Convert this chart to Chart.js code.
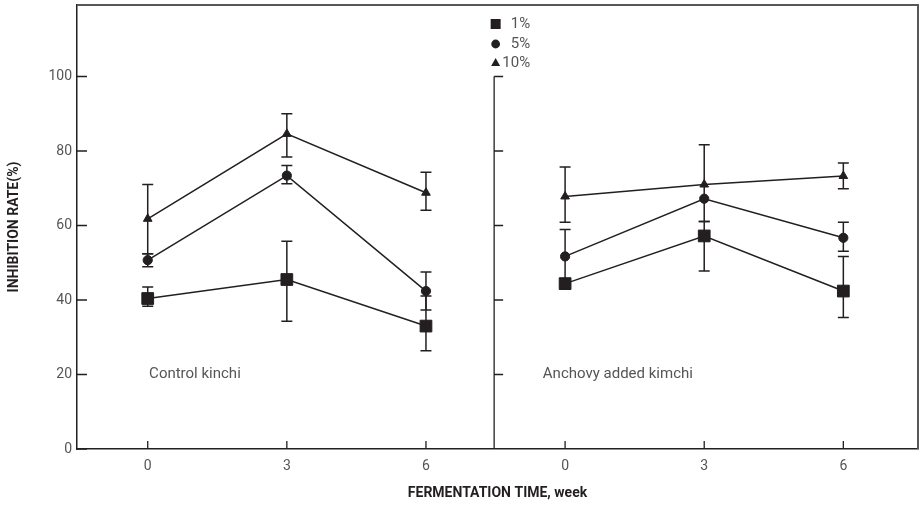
<!DOCTYPE html>
<html>
<head>
<meta charset="utf-8">
<script src="https://cdn.jsdelivr.net/npm/chart.js@4.4.1/dist/chart.umd.min.js"></script>
<style>
html,body{margin:0;padding:0;background:#fff;}
#wrap{width:923px;height:506px;}
</style>
</head>
<body>
<div id="wrap"><canvas id="c" width="923" height="506"></canvas></div>
<script>
// ---- data ----
const weeks = [0, 3, 6];
const xTickValues = [0, 3, 6, 9, 12, 15];
const xTickLabels = ['0', '3', '6', '0', '3', '6'];
const yTickValues = [0, 20, 40, 60, 80, 100];
const seriesLabels = ['1%', '5%', '10%'];

// Control kimchi (left panel)
const ctl1 = [40.4, 45.5, 33.0];
const ctl1Lo = [38.3, 34.3, 26.4];
const ctl1Hi = [43.5, 55.8, 41.1];
const ctl5 = [50.7, 73.4, 42.4];
const ctl5Lo = [48.9, 71.2, 37.3];
const ctl5Hi = [52.4, 76.1, 47.5];
const ctl10 = [61.8, 84.6, 68.8];
const ctl10Lo = [52.4, 78.4, 64.1];
const ctl10Hi = [71.0, 90.0, 74.3];

// Anchovy added kimchi (right panel)
const anc1 = [44.4, 57.2, 42.4];
const anc1Lo = [null, 47.8, 35.3];
const anc1Hi = [null, 61.1, 51.7];
const anc5 = [51.7, 67.2, 56.7];
const anc5Lo = [44.6, null, 53.1];
const anc5Hi = [58.9, null, 60.9];
const anc10 = [67.8, 71.0, 73.3];
const anc10Lo = [60.9, 61.1, 69.9];
const anc10Hi = [75.7, 81.7, 76.8];

const panelTexts = ['Control kinchi', 'Anchovy added kimchi'];

// ---- build ----
const RIGHT_OFFSET = 9;
const GAP_X = 7.47;
function pts(left, right) {
  const out = weeks.map((w, i) => ({x: w, y: left[i]}));
  out.push({x: GAP_X, y: null});
  weeks.forEach((w, i) => out.push({x: w + RIGHT_OFFSET, y: right[i]}));
  return out;
}
function errs(left, right) {
  return left.concat([null], right);
}

const INK = '#231f20';
const GREY = '#555555';
const FONT = 'Roboto, "Liberation Sans", "DejaVu Sans", sans-serif';

const styles = [
  {pointStyle: 'rect', radius: 8.3},
  {pointStyle: 'circle', radius: 4.6},
  {pointStyle: 'triangle', radius: 5}
];
const lefts = [ctl1, ctl5, ctl10], rights = [anc1, anc5, anc10];
const lLo = [ctl1Lo, ctl5Lo, ctl10Lo], lHi = [ctl1Hi, ctl5Hi, ctl10Hi];
const rLo = [anc1Lo, anc5Lo, anc10Lo], rHi = [anc1Hi, anc5Hi, anc10Hi];

const datasets = seriesLabels.map((lab, k) => ({
  label: lab,
  data: pts(lefts[k], rights[k]),
  errLo: errs(lLo[k], rLo[k]),
  errHi: errs(lHi[k], rHi[k]),
  borderColor: INK,
  backgroundColor: INK,
  borderWidth: 1.5,
  pointStyle: styles[k].pointStyle,
  pointRadius: styles[k].radius,
  pointHoverRadius: styles[k].radius,
  pointBackgroundColor: INK,
  pointBorderColor: INK,
  pointBorderWidth: 1,
  tension: 0,
  fill: false,
  spanGaps: false
}));

const errorBars = {
  id: 'errorBars',
  beforeDatasetsDraw(chart) {
    const ctx = chart.ctx, xs = chart.scales.x, ys = chart.scales.y;
    ctx.save();
    ctx.strokeStyle = INK;
    ctx.lineWidth = 1.5;
    chart.data.datasets.forEach(ds => {
      ds.data.forEach((p, i) => {
        const lo = ds.errLo[i], hi = ds.errHi[i];
        if (p.y == null || lo == null || hi == null) return;
        const x = xs.getPixelForValue(p.x);
        const y1 = ys.getPixelForValue(lo), y2 = ys.getPixelForValue(hi);
        ctx.beginPath();
        ctx.moveTo(x, y1); ctx.lineTo(x, y2);
        ctx.moveTo(x - 5.5, y1); ctx.lineTo(x + 5.5, y1);
        ctx.moveTo(x - 5.5, y2); ctx.lineTo(x + 5.5, y2);
        ctx.stroke();
      });
    });
    ctx.restore();
  }
};

const decorations = {
  id: 'decorations',
  afterDraw(chart) {
    const ctx = chart.ctx, xs = chart.scales.x, ys = chart.scales.y;
    const a = chart.chartArea;
    ctx.save();
    // frame top/right
    ctx.strokeStyle = '#5a5656';
    ctx.lineWidth = 2;
    ctx.beginPath();
    ctx.moveTo(a.left, a.top); ctx.lineTo(a.right, a.top); ctx.lineTo(a.right, a.bottom);
    ctx.stroke();
    // inward y ticks
    ctx.strokeStyle = INK;
    ctx.lineWidth = 1.3;
    ctx.beginPath();
    ys.ticks.forEach(t => {
      const y = ys.getPixelForValue(t.value);
      ctx.moveTo(a.left, y); ctx.lineTo(a.left + 10, y);
    });
    // x ticks upward
    xs.ticks.forEach(t => {
      const x = xs.getPixelForValue(t.value);
      ctx.moveTo(x, a.bottom); ctx.lineTo(x, a.bottom - 8);
    });
    // divider
    const dx = xs.getPixelForValue(GAP_X);
    ctx.moveTo(dx, ys.getPixelForValue(100)); ctx.lineTo(dx, a.bottom);
    ys.ticks.forEach(t => {
      if (t.value === 0) return;
      const y = ys.getPixelForValue(t.value);
      ctx.moveTo(dx, y); ctx.lineTo(dx + 9, y);
    });
    ctx.stroke();

    // panel texts
    ctx.fillStyle = GREY;
    ctx.font = '15px ' + FONT;
    ctx.textAlign = 'left';
    ctx.textBaseline = 'middle';
    ctx.fillText(panelTexts[0], xs.getPixelForValue(0.03), ys.getPixelForValue(20.2));
    ctx.fillText(panelTexts[1], xs.getPixelForValue(8.52), ys.getPixelForValue(20.2));

    // legend
    const lx = dx + 1.5, ltx = dx + 36;
    const lys = [24, 44, 63];
    chart.data.datasets.forEach((ds, k) => {
      const y = lys[k];
      ctx.fillStyle = INK;
      ctx.beginPath();
      if (ds.pointStyle === 'rect') {
        ctx.rect(lx - 5, y - 5, 10, 10);
      } else if (ds.pointStyle === 'circle') {
        ctx.arc(lx, y, 4.4, 0, Math.PI * 2);
      } else {
        ctx.moveTo(lx, y - 5); ctx.lineTo(lx + 4.5, y + 3); ctx.lineTo(lx - 4.5, y + 3); ctx.closePath();
      }
      ctx.fill();
      ctx.fillStyle = GREY;
      ctx.textAlign = 'right';
      ctx.fillText(ds.label, ltx, y);
    });
    ctx.restore();
  }
};

new Chart(document.getElementById('c'), {
  type: 'line',
  data: {datasets},
  options: {
    responsive: false,
    animation: false,
    layout: {autoPadding: false, padding: {top: 5, right: 5, left: 0, bottom: 0}},
    plugins: {legend: {display: false}, tooltip: {enabled: false}},
    scales: {
      x: {
        type: 'linear',
        min: -1.525,
        max: 16.61,
        afterBuildTicks: s => { s.ticks = xTickValues.map(v => ({value: v})); },
        afterFit: s => { s.height = 57; s.paddingLeft = 0; s.paddingRight = 0; },
        grid: {display: false, drawTicks: false},
        border: {display: true, color: INK, width: 1.5},
        ticks: {
          callback: (v, i) => xTickLabels[i],
          color: GREY,
          font: {family: FONT, size: 14},
          padding: 9,
          maxRotation: 0,
          autoSkip: false
        },
        title: {
          display: true,
          text: 'FERMENTATION TIME, week',
          color: INK,
          font: {family: FONT, size: 14, weight: 'bold'},
          padding: 4
        }
      },
      y: {
        type: 'linear',
        min: 0,
        max: 119.2,
        afterBuildTicks: s => { s.ticks = yTickValues.map(v => ({value: v})); },
        afterFit: s => { s.width = 77; s.paddingTop = 0; s.paddingBottom = 0; },
        grid: {display: false, drawTicks: false},
        border: {display: true, color: INK, width: 1.5},
        ticks: {
          color: GREY,
          font: {family: FONT, size: 14},
          padding: 5
        },
        title: {
          display: true,
          text: 'INHIBITION RATE(%)',
          color: INK,
          font: {family: FONT, size: 14, weight: 'bold'},
          padding: 6
        }
      }
    }
  },
  plugins: [errorBars, decorations]
});
</script>
</body>
</html>
